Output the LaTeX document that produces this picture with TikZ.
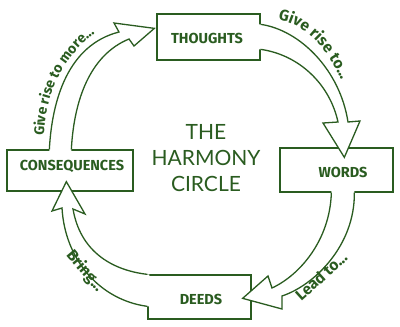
\documentclass[tikz,border=0pt]{standalone}
\usepackage{fontspec}
\usetikzlibrary{calc,decorations.text}
\newfontfamily\boxfont{Fira Sans}
\newfontfamily\titlefont{Lato}
\definecolor{hc}{RGB}{42,92,32}
\newcommand\labfont{\boxfont\bfseries\color{hc}}
\tikzset{
  box/.style={draw=hc, line width=1.3pt, inner sep=0pt},
  boxtext/.style={text=hc, font=\boxfont\bfseries\fontsize{14.5}{15}\selectfont, inner sep=0pt},
  arrowline/.style={draw=hc, line width=1.3pt, line join=miter},
  arrowfill/.style={fill=white},
  curvelabel/.style 2 args={decorate, decoration={text along path, text align=left, text={|\labfont\fontsize{#1}{#1}\selectfont|#2}}},
  straightlabel/.style={text=hc, font=\boxfont\bfseries\fontsize{15.5}{16}\selectfont, inner sep=0pt}
}
\begin{document}
\begin{tikzpicture}[x=1pt,y=-1pt]
\useasboundingbox[fill=white] (0,0) rectangle (400,327);
% boxes
\node[box, minimum width=103pt, minimum height=46pt] (thoughts) at (208.5,37) {};
\node[box, minimum width=113pt, minimum height=44pt] (words) at (336.5,170) {};
\node[box, minimum width=126pt, minimum height=41pt] (cons) at (70,170.5) {};
\node[box, minimum width=103pt, minimum height=44pt] (deeds) at (199.5,297) {};
\node[boxtext] (tThoughts) at (207,38) {THOUGHTS};
\node[boxtext] (tWords) at (343,172) {WORDS};
\node[boxtext] (tCons) at (72,166) {CONSEQUENCES};
\node[boxtext] (tDeeds) at (201,299) {DEEDS};
% title
\node[text=hc, font=\titlefont\fontsize{21}{26}\selectfont, align=center, inner sep=0pt] (title) at (206,158) {THE\\HARMONY\\CIRCLE};
% arrow tails (named coordinates on the source boxes)
\coordinate (a1o) at ($(cons.north west)+(43,0)$);
\coordinate (a1i) at ($(cons.north west)+(65,0)$);
\coordinate (a2o) at ($(thoughts.north east)+(0,11)$);
\coordinate (a2i) at ($(thoughts.north east)+(0,36)$);
\coordinate (a3i) at ($(words.south west)+(52,0)$);
\coordinate (a3o) at ($(words.south west)+(75,0)$);
\coordinate (a4i) at ($(deeds.north west)+(0,0)$);
\coordinate (a4o) at ($(deeds.north west)+(0,32)$);
% arrow tips (named coordinates at the target boxes)
\coordinate (a1t) at ($(thoughts.north west)+(-2,15)$);
\coordinate (a2t) at ($(words.north west)+(65,10)$);
\coordinate (a3t) at ($(deeds.north east)+(-9,24)$);
\coordinate (a4t) at ($(cons.south west)+(60,-10)$);
% arrow 1: consequences -> thoughts
\fill[arrowfill] (a1o) .. controls (52,100) and (68,45) .. (119,32) -- (114,23) -- (a1t) -- (134,46) -- (129,39)
  .. controls (90,55) and (74,100) .. (a1i) -- ++(0,2) -- ($(a1o)+(0,2)$) -- cycle;
\draw[arrowline] (a1o) .. controls (52,100) and (68,45) .. (119,32) -- (114,23) -- (a1t) -- (134,46) -- (129,39)
  .. controls (90,55) and (74,100) .. (a1i);
% arrow 2: thoughts -> words
\fill[arrowfill] (a2o) .. controls (300,30) and (340,70) .. (348,122) -- (360,121) -- (a2t) -- (323,123) -- (338,122)
  .. controls (330,85) and (300,55) .. (a2i) -- ++(-2,0) -- ($(a2o)+(-2,0)$) -- cycle;
\draw[arrowline] (a2o) .. controls (300,30) and (340,70) .. (348,122) -- (360,121) -- (a2t) -- (323,123) -- (338,122)
  .. controls (330,85) and (300,55) .. (a2i);
% arrow 3: words -> deeds
\fill[arrowfill] (a3i) .. controls (330,240) and (300,275) .. (272,288) -- (268,276) -- (a3t) -- (282,309) -- (282,296)
  .. controls (315,285) and (355,245) .. (a3o) -- ++(0,-2) -- ($(a3i)+(0,-2)$) -- cycle;
\draw[arrowline] (a3i) .. controls (330,240) and (300,275) .. (272,288) -- (268,276) -- (a3t) -- (282,309) -- (282,296)
  .. controls (315,285) and (355,245) .. (a3o);
% arrow 4: deeds -> consequences
\fill[arrowfill] (a4o) .. controls (100,300) and (65,260) .. (62,208) -- (52,211) -- (a4t) -- (85,214) -- (73,209)
  .. controls (80,250) and (110,270) .. (a4i) -- ++(2,0) -- ($(a4o)+(2,0)$) -- cycle;
\draw[arrowline] (a4o) .. controls (100,300) and (65,260) .. (62,208) -- (52,211) -- (a4t) -- (85,214) -- (73,209)
  .. controls (80,250) and (110,270) .. (a4i);
% labels
\path[curvelabel={14}{Give rise to more...}] (44,136) .. controls (46,85) and (68,45) .. (122,15);
\path[curvelabel={15.5}{Give rise to...}] (278,20) .. controls (312,26) and (340,60) .. (353,118);
\node[straightlabel, rotate=42] (lLead) at (321,276) {Lead to...};
\node[straightlabel, rotate=-50] (lBring) at (85,271) {Bring...};
\end{tikzpicture}
\end{document}
